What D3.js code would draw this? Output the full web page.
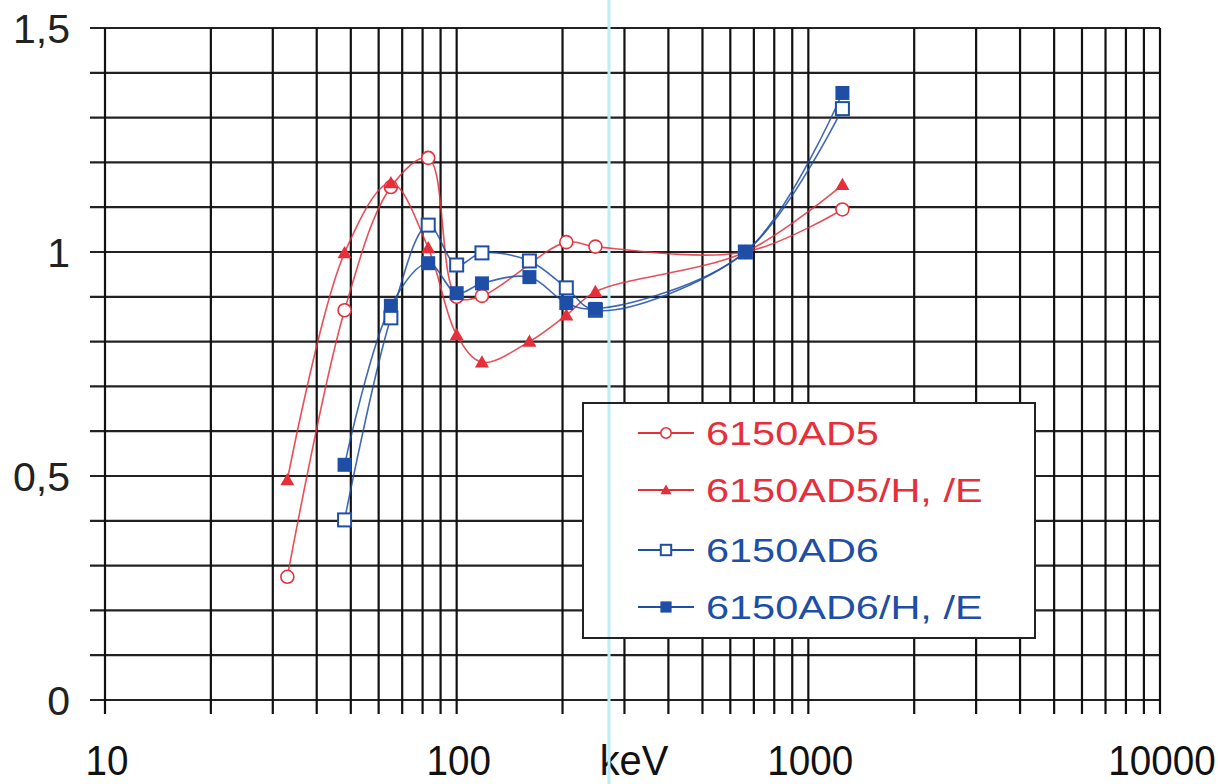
<!DOCTYPE html>
<html><head><meta charset="utf-8">
<script src="https://cdn.jsdelivr.net/npm/d3@7"></script>
<style>body{margin:0;background:#fff}svg{display:block}text{font-family:"Liberation Sans",Arial,sans-serif}</style>
</head><body>
<svg id="c" width="1218" height="784"></svg>
<script>
// Energies (keV)
const ad5X = [33, 48, 65, 83, 100, 118, 205, 248, 662, 1250];
const ad5Y = [0.275, 0.87, 1.145, 1.21, 0.90, 0.902, 1.022, 1.012, 1.0, 1.095];
const ad5hX = [33, 48, 65, 83, 100, 118, 161, 205, 248, 662, 1250];
const ad5hY = [0.491, 0.998, 1.154, 1.009, 0.815, 0.754, 0.80, 0.859, 0.911, 1.0, 1.15];
const ad6X = [48, 65, 83, 100, 118, 161, 205, 248, 662, 1250];
const ad6Y = [0.402, 0.853, 1.06, 0.971, 0.998, 0.98, 0.92, 0.87, 1.0, 1.32];
const ad6hX = [48, 65, 83, 100, 118, 161, 205, 248, 662, 1250];
const ad6hY = [0.525, 0.88, 0.975, 0.908, 0.93, 0.944, 0.886, 0.873, 1.0, 1.355];
const seriesNames = ["6150AD5", "6150AD5/H, /E", "6150AD6", "6150AD6/H, /E"];
const xTickLabels = ["10", "100", "1000", "10000"];
const yTickValues = [0, 0.5, 1, 1.5];
const yTickLabels = ["0", "0,5", "1", "1,5"];
const xUnit = "keV";

const svg = d3.select("#c");
const x = d3.scaleLog().domain([10, 10000]).range([105, 1160]);
const y = d3.scaleLinear().domain([0, 1.5]).range([700, 28]);

const RED = "#e5303c", BLUE = "#1e4ea6";

// horizontal grid every 0.1
const hVals = d3.range(0, 16).map(i => i / 10);
svg.append("g").selectAll("line").data(hVals).join("line")
  .attr("x1", 90).attr("x2", 1160)
  .attr("y1", d => y(d)).attr("y2", d => y(d))
  .attr("stroke", "#222").attr("stroke-width", 2.2);

// vertical grid at log ticks
const vVals = [];
[10, 100, 1000].forEach(dec => { for (let k = 1; k <= 9; k++) vVals.push(dec * k); });
vVals.push(10000);
svg.append("g").selectAll("line").data(vVals).join("line")
  .attr("x1", d => x(d)).attr("x2", d => x(d))
  .attr("y1", y(1.5)).attr("y2", 714)
  .attr("stroke", "#111").attr("stroke-width", 2.2);

// y labels
svg.append("g").selectAll("text").data(yTickValues).join("text")
  .attr("x", 70).attr("y", d => y(d) + 15)
  .attr("text-anchor", "end").attr("font-size", 41).attr("fill", "#222")
  .text((d, i) => yTickLabels[i]);

// x labels
svg.append("g").selectAll("text").data(xTickLabels).join("text")
  .attr("transform", d => `translate(${x(+d) + 2},775) scale(0.92,1)`)
  .attr("text-anchor", "middle").attr("font-size", 42).attr("fill", "#111")
  .text(d => d);
svg.append("text").attr("transform", "translate(634,775) scale(0.95,1)").attr("text-anchor", "middle")
  .attr("font-size", 42).attr("fill", "#111").text(xUnit);

// cyan scan line
svg.append("line").attr("x1", 609).attr("x2", 609).attr("y1", 0).attr("y2", 784)
  .attr("stroke", "#bdeef5").attr("stroke-width", 3);

const line = d3.line().x(d => x(d[0])).y(d => y(d[1])).curve(d3.curveCatmullRom.alpha(0.5));
const zip = (a, b) => a.map((v, i) => [v, b[i]]);

const series = [
  {pts: zip(ad5X, ad5Y), color: RED, m: "circle"},
  {pts: zip(ad5hX, ad5hY), color: RED, m: "tri"},
  {pts: zip(ad6X, ad6Y), color: BLUE, m: "osq"},
  {pts: zip(ad6hX, ad6hY), color: BLUE, m: "fsq"}
];

function marker(g, m, color, cx, cy, s) {
  if (m === "circle") g.append("circle").attr("cx", cx).attr("cy", cy).attr("r", 6.5 * s)
    .attr("fill", "#fff").attr("stroke", color).attr("stroke-width", 1.6);
  else if (m === "tri") { const h = 7 * s;
    g.append("path").attr("d", `M${cx},${cy - h}L${cx + h},${cy + h * 0.75}L${cx - h},${cy + h * 0.75}Z`).attr("fill", color); }
  else if (m === "osq") { const h = 6.5 * s;
    g.append("rect").attr("x", cx - h).attr("y", cy - h).attr("width", 2 * h).attr("height", 2 * h)
    .attr("fill", "#fff").attr("stroke", color).attr("stroke-width", 2); }
  else { const h = 7 * s;
    g.append("rect").attr("x", cx - h).attr("y", cy - h).attr("width", 2 * h).attr("height", 2 * h).attr("fill", color); }
}

series.forEach(s => {
  svg.append("path").attr("d", line(s.pts)).attr("fill", "none")
    .attr("stroke", s.color).attr("stroke-width", 1.6).attr("opacity", 0.85);
});
series.forEach(s => {
  const g = svg.append("g");
  s.pts.forEach(p => marker(g, s.m, s.color, x(p[0]), y(p[1]), 1));
});

// legend
const lg = svg.append("g");
lg.append("rect").attr("x", 583).attr("y", 403).attr("width", 452).attr("height", 235)
  .attr("fill", "#fff").attr("stroke", "#222").attr("stroke-width", 2);
lg.append("line").attr("x1", 609).attr("x2", 609).attr("y1", 404).attr("y2", 637)
  .attr("stroke", "#bdeef5").attr("stroke-width", 3);
const rowsY = [433, 490, 550, 607];
series.forEach((s, i) => {
  const cy = rowsY[i];
  lg.append("line").attr("x1", 638).attr("x2", 694).attr("y1", cy).attr("y2", cy)
    .attr("stroke", s.color).attr("stroke-width", 1.8);
  marker(lg, s.m, s.color, 666, cy, 0.8);
  lg.append("text").attr("transform", `translate(706,${cy + 12}) scale(1.22,1)`)
    .attr("font-size", 34).attr("fill", s.color).text(seriesNames[i]);
});
</script>
</body></html>
